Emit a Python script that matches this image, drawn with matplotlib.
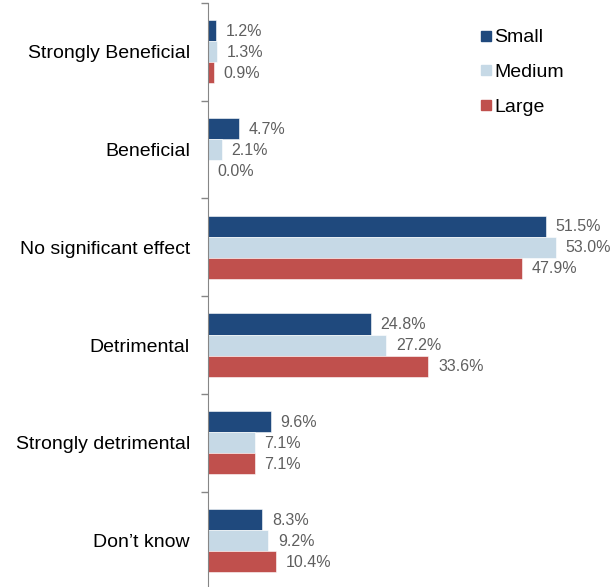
import matplotlib
import matplotlib.pyplot as plt
import numpy as np
from matplotlib.lines import Line2D

plt.rcParams['font.family'] = ['Liberation Sans', 'DejaVu Sans']

categories = ['Strongly Beneficial', 'Beneficial', 'No significant effect',
              'Detrimental', 'Strongly detrimental', "Don\u2019t know"]
small = [1.2, 4.7, 51.5, 24.8, 9.6, 8.3]
medium = [1.3, 2.1, 53.0, 27.2, 7.1, 9.2]
large = [0.9, 0.0, 47.9, 33.6, 7.1, 10.4]
series_names = ['Small', 'Medium', 'Large']
colors = ['#1F497D', '#C6D9E6', '#C0504D']

fig = plt.figure(figsize=(6.14, 5.87), dpi=100)
ax = fig.add_axes([0.3388, -0.004, 0.6612, 0.999])

y = np.arange(len(categories))
h = 0.215
for k, (vals, col) in enumerate(zip([small, medium, large], colors)):
    pos = y + (k - 1) * h
    ax.barh(pos, vals, height=h, color=col, edgecolor='white', linewidth=0.4)
    for v, p in zip(vals, pos):
        ax.annotate('%.1f%%' % v, (v, p), xytext=(7, -0.5), textcoords='offset points',
                    ha='left', va='center', fontsize=11.5, color='#5f5f5f')

ax.set_xlim(0, 61.9)
ax.set_ylim(len(categories) - 0.5, -0.5)
ax.set_yticks(y)
ax.set_yticklabels(categories, fontsize=14)
ax.set_yticks(np.arange(len(categories) + 1) - 0.5, minor=True)
ax.tick_params(axis='y', which='major', length=0, pad=13)
ax.tick_params(axis='y', which='minor', length=5, color='#868686', width=1)
ax.set_xticks([])
for s in ['top', 'right', 'bottom']:
    ax.spines[s].set_visible(False)
ax.spines['left'].set_color('#868686')

handles = [Line2D([], [], marker='s', linestyle='none', markersize=7.2,
                  markerfacecolor=c, markeredgecolor=c) for c in colors]
ax.legend(handles, series_names, loc='upper left', bbox_to_anchor=(0.783, 0.951),
          bbox_transform=fig.transFigure, frameon=False, fontsize=14,
          handlelength=0.5, handletextpad=0.2, labelspacing=0.88, borderaxespad=0,
          borderpad=0)

plt.savefig('out.png', dpi=100)
